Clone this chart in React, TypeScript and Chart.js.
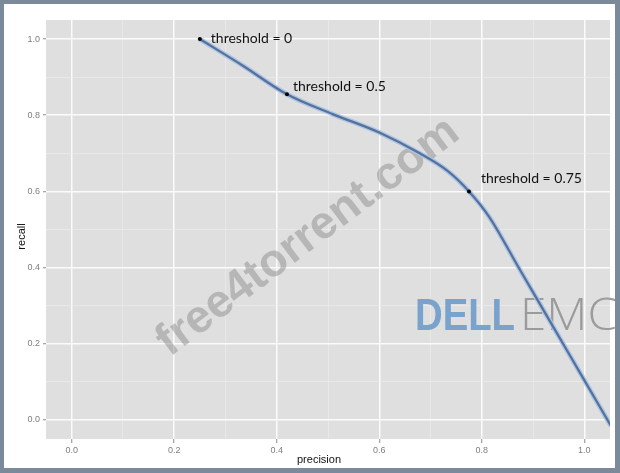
import React, { useEffect, useRef } from 'react';
import { Chart, registerables } from 'chart.js';

Chart.register(...registerables);

// ---- data ----
const precision = [0.25, 0.334, 0.42, 0.509, 0.601, 0.679, 0.732, 0.775, 0.814, 0.874, 0.933, 0.991, 1.052];
const recall = [1.0, 0.93, 0.855, 0.803, 0.754, 0.7, 0.655, 0.6, 0.534, 0.395, 0.259, 0.125, -0.016];

const thresholdPrecision = [0.25, 0.42, 0.775];
const thresholdRecall = [1.0, 0.855, 0.6];
const thresholdLabels = ['threshold = 0', 'threshold = 0.5', 'threshold = 0.75'];

const tickValues = [0, 0.1, 0.2, 0.3, 0.4, 0.5, 0.6, 0.7, 0.8, 0.9, 1.0];
const majorTickLabels = ['0.0', '0.2', '0.4', '0.6', '0.8', '1.0'];

const xTitle = 'precision';
const yTitle = 'recall';
const watermarkText = 'free4torrent.com';
const logoBrand = 'DELL';
const logoSuffix = 'EMC';

// ---- styles ----
const labelOffsets = [
  [11, -1],
  [6, -8],
  [12, -13],
];
const FRAME = '#7b8a9b';
const PANEL = '#dfdfdf';

const decor = {
  id: 'decor',
  beforeDraw(chart: any) {
    const { ctx, chartArea: a } = chart;
    ctx.save();
    ctx.fillStyle = PANEL;
    ctx.fillRect(a.left, a.top, a.right - a.left, a.bottom - a.top);
    ctx.restore();
  },
  beforeDatasetsDraw(chart: any) {
    const { ctx } = chart;
    ctx.save();
    ctx.translate(304, 233);
    ctx.rotate((-37 * Math.PI) / 180);
    ctx.font = 'bold 46px "Liberation Sans", Arial, sans-serif';
    ctx.fillStyle = 'rgba(120,120,120,0.4)';
    ctx.textAlign = 'center';
    ctx.textBaseline = 'middle';
    ctx.fillText(watermarkText, 0, 0);
    ctx.restore();

    ctx.save();
    ctx.font = 'bold 45px "Liberation Sans", Arial, sans-serif';
    ctx.textBaseline = 'alphabetic';
    ctx.textAlign = 'left';
    let w = ctx.measureText(logoBrand).width;
    ctx.translate(411, 326);
    ctx.scale(100 / w, 1);
    ctx.fillStyle = '#79a2cc';
    ctx.fillText(logoBrand, 0, 0);
    ctx.restore();

    ctx.save();
    ctx.font = '300 45px "Open Sans", "Liberation Sans", sans-serif';
    ctx.textBaseline = 'alphabetic';
    ctx.textAlign = 'left';
    w = ctx.measureText(logoSuffix).width;
    ctx.translate(516, 326);
    ctx.scale(97 / w, 1);
    ctx.fillStyle = '#9b9b9b';
    ctx.fillText(logoSuffix, 0, 0);
    ctx.restore();
  },
  afterDatasetsDraw(chart: any) {
    const { ctx, scales } = chart;
    ctx.save();
    ctx.font = '14px Lato, "Open Sans", sans-serif';
    ctx.fillStyle = '#111111';
    ctx.textAlign = 'left';
    ctx.textBaseline = 'middle';
    thresholdLabels.forEach((t, i) => {
      const px = scales.x.getPixelForValue(thresholdPrecision[i]);
      const py = scales.y.getPixelForValue(thresholdRecall[i]);
      ctx.fillText(t, px + labelOffsets[i][0], py + labelOffsets[i][1]);
    });
    ctx.restore();
  },
  afterDraw(chart: any) {
    const { ctx, chartArea: a } = chart;
    ctx.save();
    ctx.font = '11px "Liberation Sans", Arial, sans-serif';
    ctx.fillStyle = '#111111';
    ctx.textAlign = 'center';
    ctx.textBaseline = 'middle';
    ctx.fillText(xTitle, (a.left + a.right) / 2 - 9, 456);
    ctx.translate(18, (a.top + a.bottom) / 2 + 7);
    ctx.rotate(-Math.PI / 2);
    ctx.fillText(yTitle, 0, 0);
    ctx.restore();
  },
};

const gridOpts = {
  color: (c: any) => (c.index % 2 === 0 ? '#fbfbfb' : '#ececec'),
  lineWidth: (c: any) => (c.index % 2 === 0 ? 1.5 : 0.7),
  tickColor: (c: any) => (c.index % 2 === 0 ? '#8a8a8a' : 'rgba(0,0,0,0)'),
  tickWidth: 1,
  drawTicks: true,
};

const tickFont = { family: '"Liberation Sans", Arial, sans-serif', size: 9 };

export default function App() {
  const ref = useRef<HTMLCanvasElement | null>(null);
  useEffect(() => {
    if (!ref.current) return;
    const curve = precision.map((p, i) => ({ x: p, y: recall[i] }));
    const pts = thresholdPrecision.map((p, i) => ({ x: p, y: thresholdRecall[i] }));
    const chart = new Chart(ref.current, {
      type: 'line',
      data: {
        datasets: [
          {
            type: 'scatter',
            data: pts,
            pointRadius: 2,
            pointBackgroundColor: '#000',
            pointBorderWidth: 0,
            order: 0,
          } as any,
          {
            data: curve,
            borderColor: '#55719c',
            borderWidth: 2.3,
            pointRadius: 0,
            cubicInterpolationMode: 'monotone',
            fill: false,
            order: 1,
          },
          {
            data: curve,
            borderColor: 'rgba(170,195,228,0.9)',
            borderWidth: 5,
            pointRadius: 0,
            cubicInterpolationMode: 'monotone',
            fill: false,
            order: 2,
          },
        ],
      },
      options: {
        animation: false,
        responsive: false,
        layout: { padding: { top: 16, right: 5, left: 0, bottom: 0 } },
        plugins: { legend: { display: false }, tooltip: { enabled: false } },
        scales: {
          x: {
            type: 'linear',
            min: -0.05,
            max: 1.05,
            afterBuildTicks: (s: any) => {
              s.ticks = tickValues.map((v) => ({ value: v }));
            },
            afterFit: (s: any) => {
              s.height = 29;
            },
            border: { display: false },
            grid: { ...gridOpts, tickLength: 4 },
            ticks: {
              autoSkip: false,
              maxRotation: 0,
              padding: 2,
              color: '#7f7f7f',
              font: tickFont,
              callback: (_v: any, i: number) => (i % 2 === 0 ? majorTickLabels[i / 2] : ''),
            },
          },
          y: {
            type: 'linear',
            min: -0.05,
            max: 1.05,
            afterBuildTicks: (s: any) => {
              s.ticks = tickValues.map((v) => ({ value: v }));
            },
            afterFit: (s: any) => {
              s.width = 42;
            },
            border: { display: false },
            grid: { ...gridOpts, tickLength: 3 },
            ticks: {
              autoSkip: false,
              padding: 3,
              color: '#7f7f7f',
              font: tickFont,
              callback: (_v: any, i: number) => (i % 2 === 0 ? majorTickLabels[i / 2] : ''),
            },
          },
        },
      },
      plugins: [decor],
    });
    return () => chart.destroy();
  }, []);

  return (
    <div style={{ position: 'fixed', left: 0, top: 0, width: 620, height: 473, background: FRAME }}>
      <div style={{ position: 'absolute', left: 4, top: 4, width: 611, height: 464, background: '#ffffff' }}>
        <canvas ref={ref} width={611} height={464} style={{ display: 'block', width: 611, height: 464 }} />
      </div>
    </div>
  );
}
